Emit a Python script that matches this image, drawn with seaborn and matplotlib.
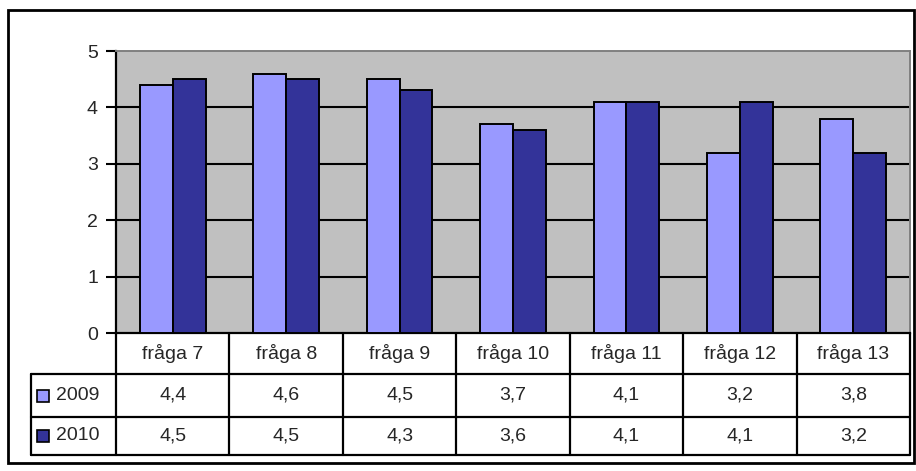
import matplotlib
matplotlib.use('Agg')
import matplotlib.pyplot as plt
import matplotlib.patches as mpatches
from matplotlib.lines import Line2D
import seaborn as sns
import pandas as pd

questions = ['fråga 7', 'fråga 8', 'fråga 9', 'fråga 10', 'fråga 11', 'fråga 12', 'fråga 13']
years = ['2009', '2010']
values2009 = [4.4, 4.6, 4.5, 3.7, 4.1, 3.2, 3.8]
values2010 = [4.5, 4.5, 4.3, 3.6, 4.1, 4.1, 3.2]
yticks = [0, 1, 2, 3, 4, 5]

colors = ['#9999FF', '#333399']

W, H = 916, 471


def px(x, y):
    # pixel coords (top-left origin) -> figure fraction
    return x / W, 1 - y / H


def fmt(v):
    return ('%.1f' % v).replace('.', ',')


sns.set_theme(style='white')
plt.rcParams['font.family'] = ['Liberation Sans', 'DejaVu Sans']
fs = 14

dataFrame = pd.DataFrame({
    'fråga': questions * 2,
    'värde': values2009 + values2010,
    'år': [years[0]] * len(questions) + [years[1]] * len(questions),
})

fig = plt.figure(figsize=(W / 100, H / 100), dpi=100)
fig.patch.set_facecolor('white')

left, top, right, bottom = 116, 51, 910, 333
ax = fig.add_axes([left / W, 1 - bottom / H, (right - left) / W, (bottom - top) / H])
ax.set_facecolor('#C0C0C0')

sns.barplot(data=dataFrame, x='fråga', y='värde', hue='år', order=questions,
            hue_order=years, palette=colors, width=0.58, edgecolor='black',
            linewidth=1.4, saturation=1, legend=False, ax=ax, zorder=3)

ax.set_ylim(0, 5)
ax.set_xlim(-0.5, len(questions) - 0.5)
ax.set_yticks(yticks)
ax.set_yticklabels([str(t) for t in yticks], fontsize=fs)
ax.set_xticks([])
ax.set_xlabel('')
ax.set_ylabel('')
ax.tick_params(axis='y', direction='out', length=7, width=1.5, color='black', pad=6, left=True)
for t in [1, 2, 3, 4]:
    ax.axhline(t, color='black', linewidth=1.5, zorder=1)
ax.spines['left'].set_color('black')
ax.spines['left'].set_linewidth(1.6)
ax.spines['bottom'].set_color('black')
ax.spines['bottom'].set_linewidth(1.6)
ax.spines['top'].set_color('#808080')
ax.spines['right'].set_color('#808080')
ax.spines['top'].set_linewidth(1.4)
ax.spines['right'].set_linewidth(1.4)

# data table below the plot
colW = (right - left) / len(questions)
rowY = [333, 374, 417, 455]
legX = 31
lw = 1.6


def line(x0, y0, x1, y1):
    a = px(x0, y0)
    b = px(x1, y1)
    fig.add_artist(Line2D([a[0], b[0]], [a[1], b[1]], color='black', linewidth=lw))


for y in rowY[1:]:
    line(legX, y, right, y)
line(legX, rowY[1], legX, rowY[3])
for i in range(len(questions) + 1):
    line(left + i * colW, rowY[0], left + i * colW, rowY[3])

for i, q in enumerate(questions):
    cx = left + (i + 0.5) * colW
    x, y = px(cx, (rowY[0] + rowY[1]) / 2)
    fig.text(x, y, q, ha='center', va='center', fontsize=fs)
    for r, vals in enumerate([values2009, values2010]):
        x, y = px(cx, (rowY[r + 1] + rowY[r + 2]) / 2)
        fig.text(x, y, fmt(vals[i]), ha='center', va='center', fontsize=fs)

for r, yr in enumerate(years):
    cy = (rowY[r + 1] + rowY[r + 2]) / 2
    x0, y0 = px(37, cy + 6)
    fig.add_artist(mpatches.Rectangle((x0, y0), 12 / W, 12 / H, facecolor=colors[r],
                                      edgecolor='black', linewidth=1.2))
    x, y = px(56, cy)
    fig.text(x, y, yr, ha='left', va='center', fontsize=fs)

# outer chart frame
x0, y0 = px(8, 463)
fig.add_artist(mpatches.Rectangle((x0, y0), (914 - 8) / W, (463 - 10) / H, fill=False,
                                  edgecolor='black', linewidth=2))

plt.savefig('out.png', dpi=100)
